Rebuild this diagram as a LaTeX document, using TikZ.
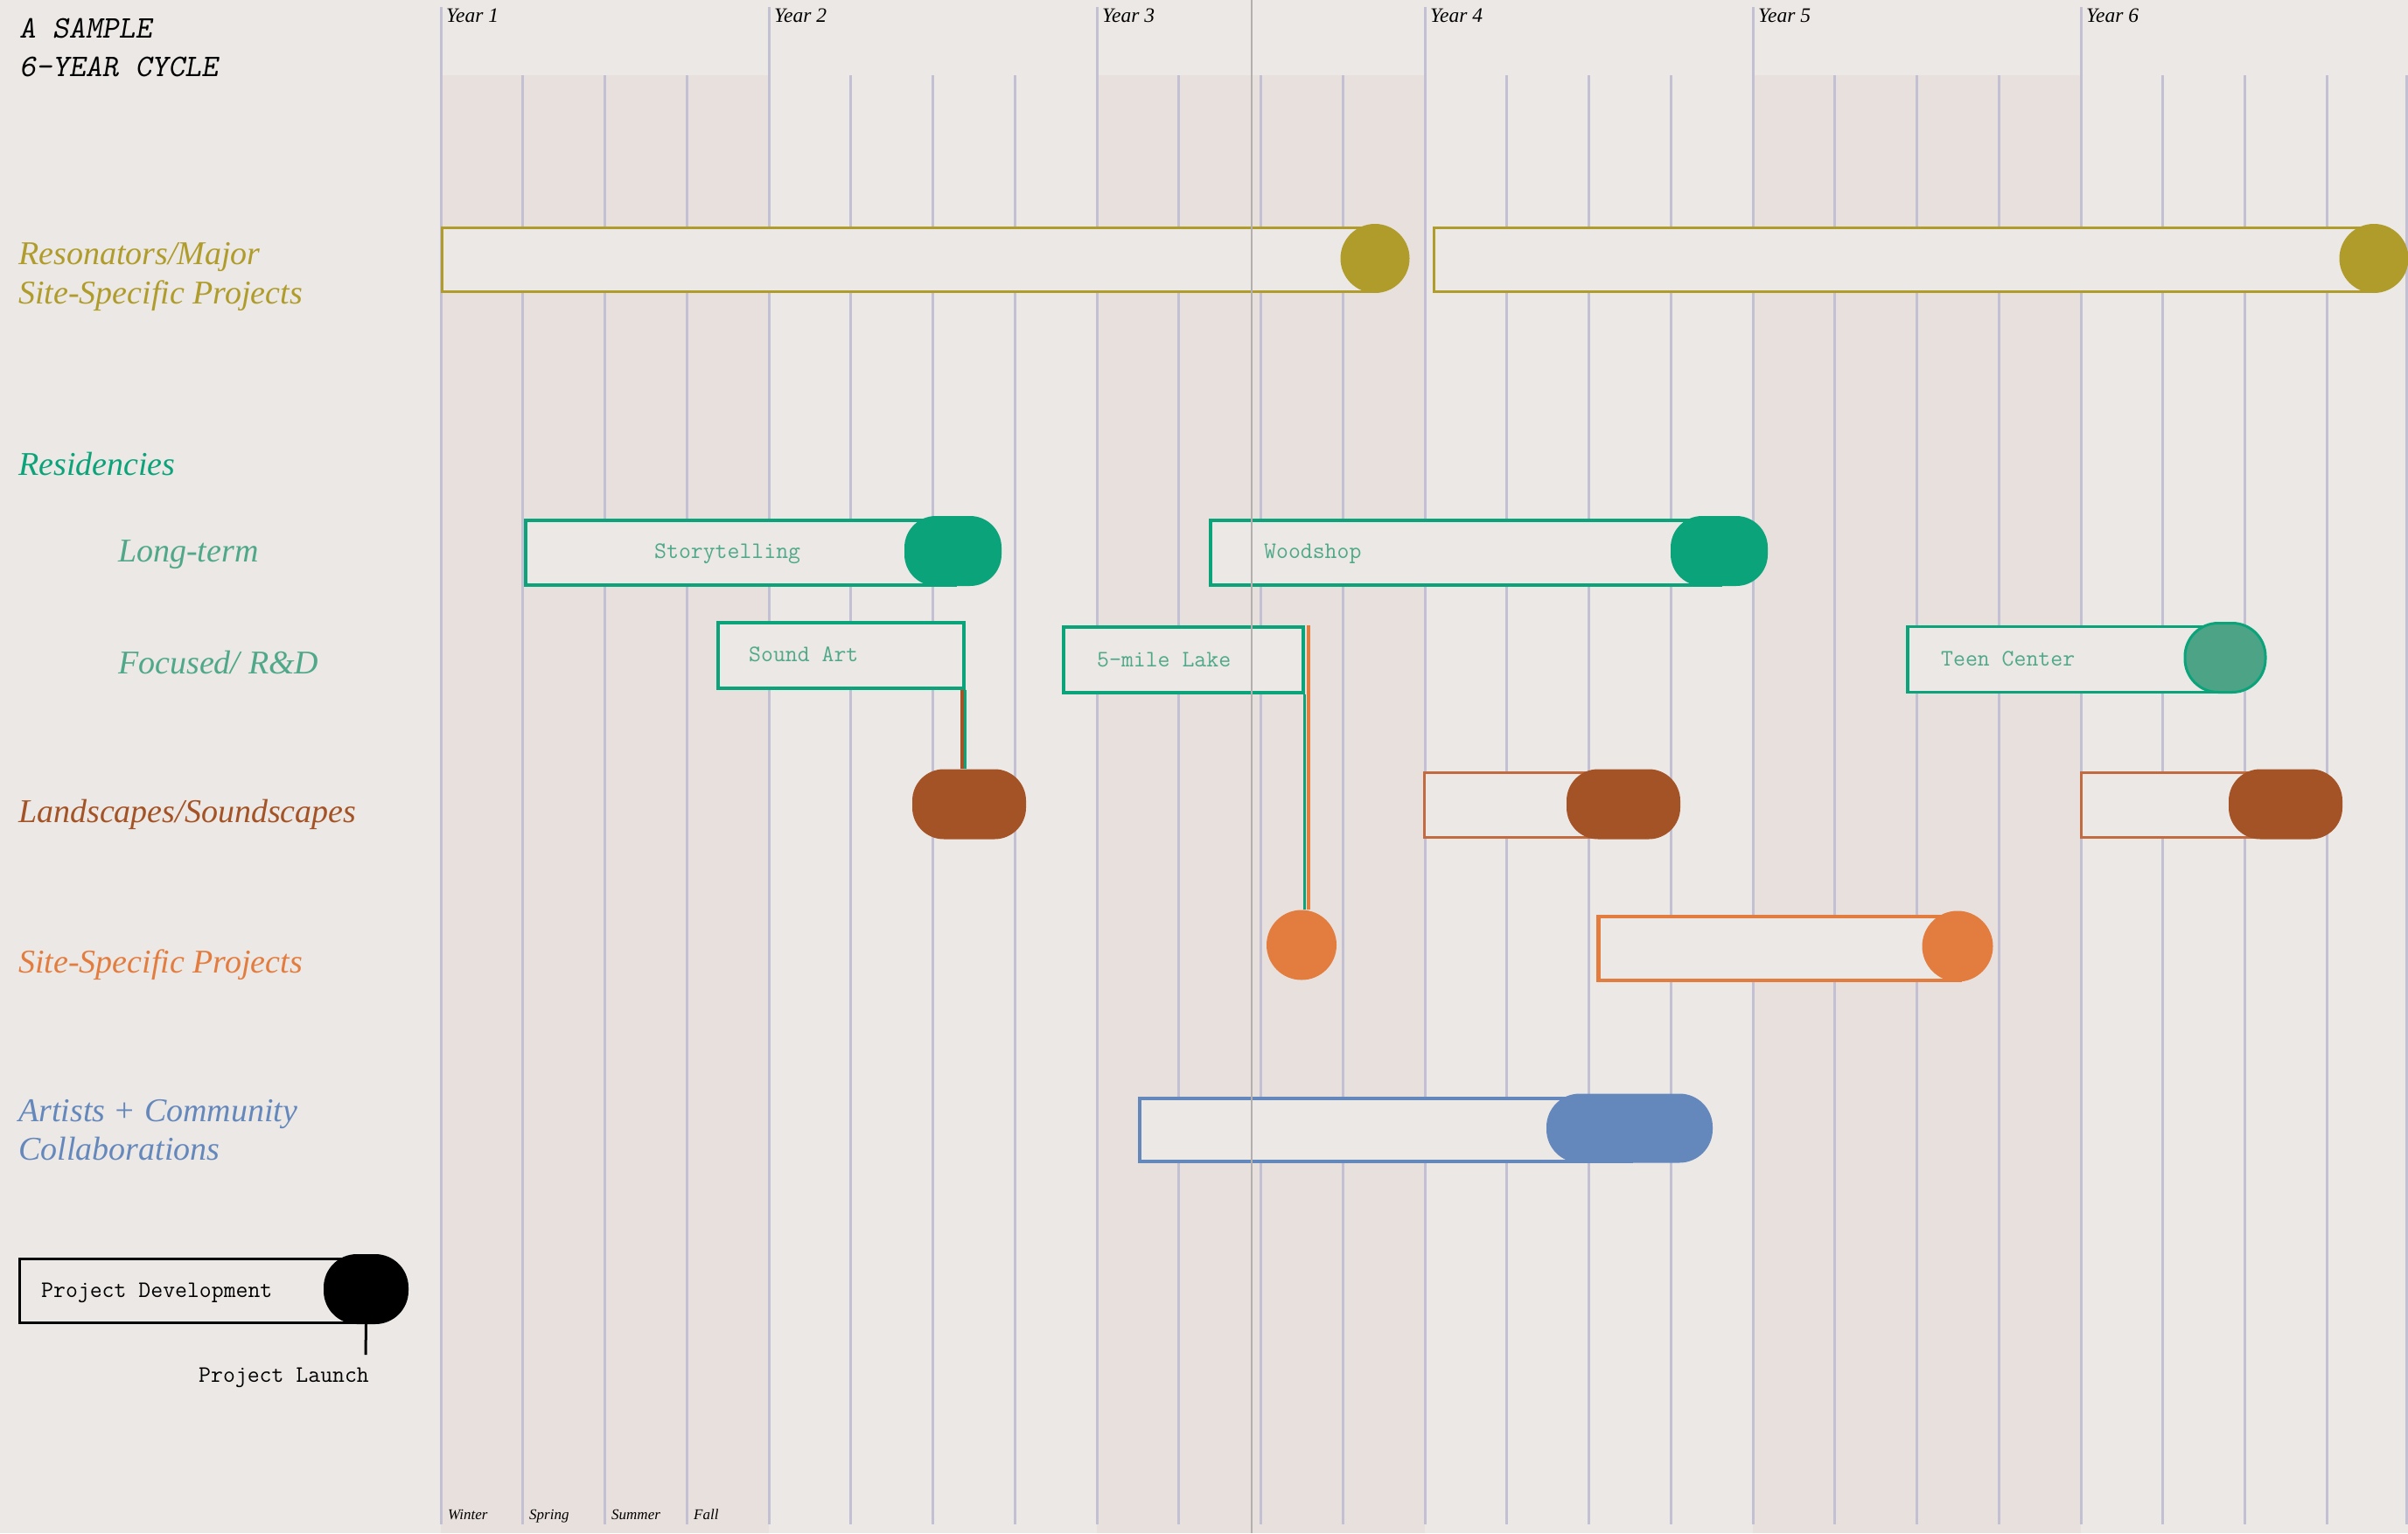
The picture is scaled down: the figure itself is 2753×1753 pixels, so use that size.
\documentclass[tikz,border=0pt]{standalone}
\usepackage{fontspec}
\newfontfamily\labelserif{Liberation Serif}
\definecolor{bg}{HTML}{ECE8E5}
\definecolor{shadec}{HTML}{E8E0DC}
\definecolor{gridc}{HTML}{C4C0D3}
\definecolor{hairc}{HTML}{B3AFAF}
\definecolor{olivec}{HTML}{AF9C2B}
\definecolor{greenc}{HTML}{0BA37A}
\definecolor{lgreenc}{HTML}{4EA889}
\definecolor{tealfill}{HTML}{4DA386}
\definecolor{brownc}{HTML}{A35325}
\definecolor{brownbox}{HTML}{C26A40}
\definecolor{orangec}{HTML}{E27D3F}
\definecolor{bluec}{HTML}{6588BC}
\tikzset{
  gridline/.style={draw=gridc, line width=3pt},
  hairline/.style={draw=hairc, line width=1.5pt},
  barbox/.style={rectangle, fill=bg, inner sep=0pt, anchor=north west},
  pillbox/.style={rectangle, rounded corners=36pt, inner sep=0pt},
  endcirc/.style={circle, inner sep=0pt},
  monotxt/.style={font=\fontsize{27}{32}\selectfont\ttfamily, inner sep=0pt, anchor=base west},
  catlbl/.style={font=\fontsize{38}{44}\selectfont\labelserif\itshape, inner sep=0pt, anchor=base west},
  yearlbl/.style={font=\fontsize{23.5}{27}\selectfont\labelserif\itshape, inner sep=0pt, anchor=base west},
  seasonlbl/.style={font=\fontsize{17}{20}\selectfont\labelserif\itshape, inner sep=0pt, anchor=base west},
  titlelbl/.style={font=\fontsize{36}{42}\selectfont\ttfamily\slshape, inner sep=0pt, anchor=base west},
}
\begin{document}
\begin{tikzpicture}[x=1pt,y=-1pt]
\useasboundingbox (0,0) rectangle (2753,1753);
\fill[bg] (0,0) rectangle (2753,1753);
% shaded years
\foreach \xx in {504,1254,2004} \fill[shadec] (\xx,86) rectangle ++(375,1667);
% grid
\foreach \k in {0,...,23} \draw[gridline] ({504+93.75*\k},86) -- ({504+93.75*\k},1743);
\foreach \k in {0,...,5} \draw[gridline] ({504+375*\k},8) -- ({504+375*\k},86);
\draw[gridline] (2751.5,86) -- (2751.5,1743);
% year labels
\foreach \k [evaluate=\k as \xx using 510+375*(\k-1)] in {1,...,6}
  \node[yearlbl] (year\k) at (\xx,26) {Year \k};
% season labels
\node[seasonlbl] (winter) at (512,1737) {Winter};
\node[seasonlbl] (spring) at (605,1737) {Spring};
\node[seasonlbl] (summer) at (699,1737) {Summer};
\node[seasonlbl] (fall) at (793,1737) {Fall};
% title
\node[titlelbl] (title1) at (22,44) {A SAMPLE};
\node[titlelbl] (title2) at (22,88) {6-YEAR CYCLE};
% category labels
\node[catlbl, text=olivec] (cres1) at (21,302) {Resonators/Major};
\node[catlbl, text=olivec] (cres2) at (21,347) {Site-Specific Projects};
\node[catlbl, text=greenc] (cresid) at (21,543) {Residencies};
\node[catlbl, text=lgreenc] (clong) at (135,642) {Long-term};
\node[catlbl, text=lgreenc] (cfoc) at (135,770) {Focused/ R\&D};
\node[catlbl, text=brownc] (cland) at (21,940) {Landscapes/Soundscapes};
\node[catlbl, text=orangec] (csite) at (21,1112) {Site-Specific Projects};
\node[catlbl, text=bluec] (cart1) at (21,1282) {Artists + Community};
\node[catlbl, text=bluec] (cart2) at (21,1326) {Collaborations};
% bars
\node[barbox, draw=olivec, line width=3pt, minimum width=1068pt, minimum height=73pt] (res1) at (504,259) {};
\node[barbox, draw=olivec, line width=3pt, minimum width=1076pt, minimum height=73pt] (res2) at (1638,259) {};
\node[barbox, draw=greenc, line width=3.5pt, minimum width=491pt, minimum height=74pt] (story) at (599,593) {};
\node[barbox, draw=greenc, line width=3.5pt, minimum width=583pt, minimum height=74pt] (wood) at (1382,593) {};
\node[barbox, draw=greenc, line width=3.5pt, minimum width=281pt, minimum height=75pt] (soundart) at (819,710) {};
\node[barbox, draw=greenc, line width=3.5pt, minimum width=274pt, minimum height=75pt] (lake) at (1214,715) {};
\node[barbox, draw=greenc, line width=3.5pt, minimum width=365pt, minimum height=75pt] (teen) at (2179,714.5) {};
\node[barbox, draw=brownbox, line width=2.5pt, minimum width=229pt, minimum height=74pt] (land2) at (1627,882) {};
\node[barbox, draw=brownbox, line width=2.5pt, minimum width=235pt, minimum height=74pt] (land3) at (2378,882) {};
\node[barbox, draw=orangec, line width=4.5pt, minimum width=413pt, minimum height=73pt] (sitebox) at (1825,1045.5) {};
\node[barbox, draw=bluec, line width=3.5pt, minimum width=562pt, minimum height=72pt] (artbox) at (1301,1254) {};
\node[barbox, draw=black, line width=3pt, minimum width=397pt, minimum height=73pt] (legbox) at (21,1437.5) {};
% end markers
\node[endcirc, fill=olivec, minimum size=79pt] (resdot1) at (1572,295.5) {};
\node[endcirc, fill=olivec, minimum size=79pt] (resdot2) at (2714,295.5) {};
\node[pillbox, fill=greenc, minimum width=111pt, minimum height=80pt] (storypill) at (1089.5,630) {};
\node[pillbox, fill=greenc, minimum width=111pt, minimum height=80pt] (woodpill) at (1965.5,630) {};
\node[pillbox, fill=tealfill, draw=greenc, line width=3pt, rounded corners=38pt, minimum width=92pt, minimum height=79pt] (teenpill) at (2544,752) {};
\node[pillbox, fill=brownc, minimum width=130pt, minimum height=80pt] (lsA) at (1108,919.5) {};
% connectors
\coordinate (sa1) at ([xshift=-4pt]soundart.south east);
\draw[brownc, line width=4pt] (sa1) -- (sa1 |- lsA.north);
\draw[greenc, line width=3pt] (soundart.south east) -- (soundart.south east |- lsA.north);
\node[endcirc, fill=orangec, minimum width=80pt, minimum height=79pt] (ssA) at (1488,1080.5) {};
\coordinate (lk1) at ([xshift=4pt]lake.north east);
\draw[orangec, line width=4pt] (lk1) -- (lk1 |- ssA.north);
\draw[greenc, line width=3pt] (lake.south east) -- (lake.south east |- ssA.north);
\node[pillbox, fill=brownc, minimum width=130pt, minimum height=80pt] (land2pill) at (1856,919.5) {};
\node[pillbox, fill=brownc, minimum width=130pt, minimum height=80pt] (land3pill) at (2613,919.5) {};
\node[endcirc, fill=orangec, minimum width=80pt, minimum height=81pt] (sitedot) at (2238,1082) {};
\node[pillbox, fill=bluec, rounded corners=38pt, minimum width=190pt, minimum height=79pt] (artpill) at (1863,1290) {};
\node[pillbox, fill=black, rounded corners=38pt, minimum width=97pt, minimum height=80pt] (legpill) at (418.5,1474) {};
\coordinate (launchtop) at (418,1549);
\draw[black, line width=3pt] (legpill.south) -- (launchtop);
% bar texts
\node[monotxt, text=lgreenc] (storytxt) at (748,638) {Storytelling};
\node[monotxt, text=lgreenc] (woodtxt) at (1445,638) {Woodshop};
\node[monotxt, text=lgreenc] (soundtxt) at (856,756) {Sound Art};
\node[monotxt, text=lgreenc] (laketxt) at (1254,762) {5-mile Lake};
\node[monotxt, text=lgreenc] (teentxt) at (2219,761) {Teen Center};
\node[monotxt] (devtxt) at (47,1483) {Project Development};
\node[monotxt] (launchtxt) at (227,1580) {Project Launch};
% hairline
\draw[hairline] (1431,0) -- (1431,1753);
\end{tikzpicture}
\end{document}
